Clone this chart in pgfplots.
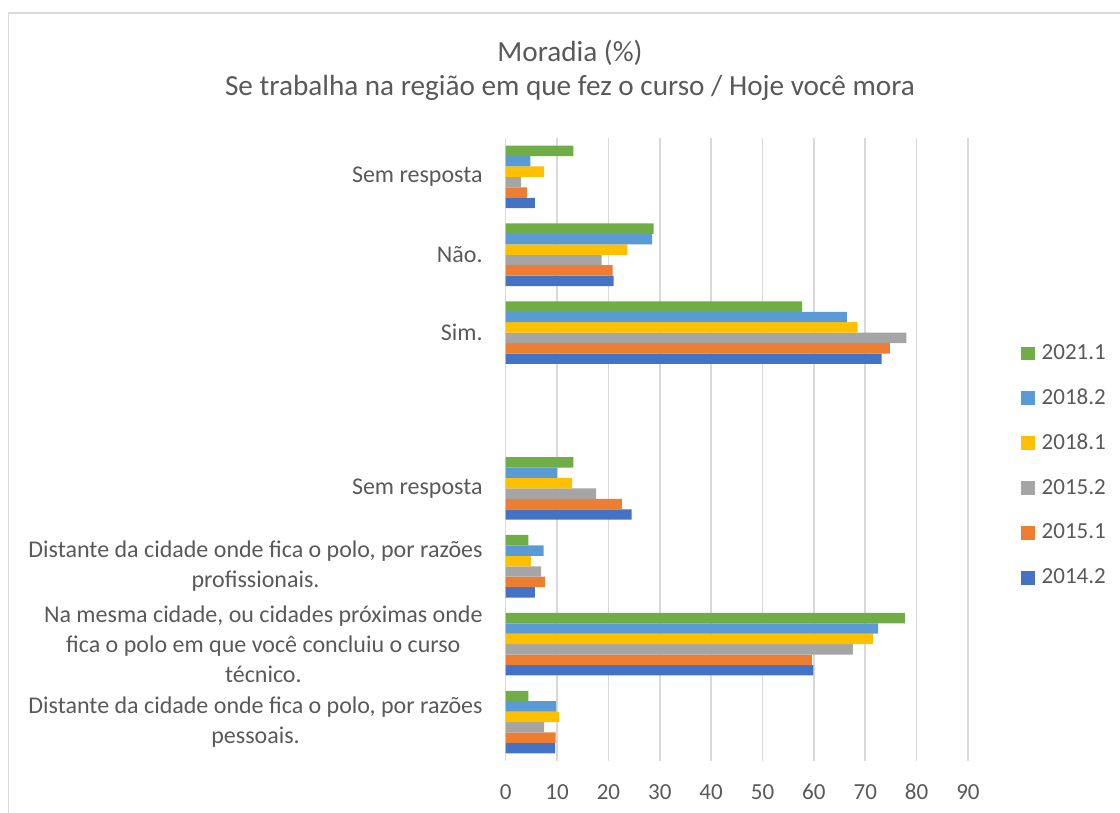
\documentclass[border=0pt]{standalone}
\usepackage{pgfplots}
\usepackage{pgfplotstable}
\pgfplotsset{compat=1.18}
\usepackage{fontspec}
\setmainfont{Carlito}

\definecolor{txt}{HTML}{595959}
\definecolor{gridc}{HTML}{D9D9D9}
\definecolor{cA}{HTML}{4472C4}
\definecolor{cB}{HTML}{ED7D31}
\definecolor{cC}{HTML}{A5A5A5}
\definecolor{cD}{HTML}{FFC000}
\definecolor{cE}{HTML}{5B9BD5}
\definecolor{cF}{HTML}{70AD47}

% y = category position (0 = bottom), 4 is the empty slot
\pgfplotstableread{
y  a     b     c     d     e     f
0  9.6   9.7   7.5   10.4  9.8   4.4
1  59.9  59.6  67.6  71.5  72.5  77.7
2  5.7   7.7   6.9   4.9   7.4   4.4
3  24.5  22.6  17.6  12.9  10.0  13.2
5  73.2  74.8  78.0  68.5  66.4  57.7
6  21.0  20.8  18.7  23.7  28.5  28.8
7  5.7   4.1   3.0   7.5   4.8   13.2
}\moradia

\begin{document}
\begin{tikzpicture}
% picture laid out in pixels of the reference, 1px = 0.5pt, origin bottom left
\useasboundingbox (0pt,0pt) rectangle (560pt,406.5pt);
\draw[gridc, line width=0.6pt] (4.25pt,0pt) -- (4.25pt,400pt) -- (560pt,400pt);
\node[txt, font=\fontsize{14.6}{17}\selectfont] at (285pt,380pt) {Moradia (\%)};
\node[txt, font=\fontsize{14.6}{17}\selectfont] at (285pt,362.5pt) {Se trabalha na região em que fez o curso / Hoje você mora};

\begin{axis}[
    at={(252.85pt,26pt)}, anchor=south west,
    scale only axis, width=231.15pt, height=311.5pt,
    xbar, bar width=0.134,
    xmin=0, xmax=90, ymin=-0.5, ymax=7.5,
    xtick={0,10,...,90},
    ytick={0,...,7},
    yticklabels={
      {Distante da cidade onde fica o polo, por razões\\pessoais.},
      {Na mesma cidade, ou cidades próximas onde\\fica o polo em que você concluiu o curso\\técnico.},
      {Distante da cidade onde fica o polo, por razões\\profissionais.},
      {Sem resposta}, {}, {Sim.}, {Não.}, {Sem resposta}},
    yticklabel style={align=center, inner sep=0pt, xshift=-11.35pt,
      font=\fontsize{12}{15}\selectfont, text=txt},
    xticklabel style={inner sep=0pt, yshift=-11.7pt, anchor=north,
      text height=7.4pt, text depth=0pt,
      font=\fontsize{11.5}{13}\selectfont, text=txt},
    /pgf/number format/assume math mode=true,
    major tick length=0pt,
    axis line style={draw=none},
    xmajorgrids, grid style={draw=gridc, line width=0.8pt},
    reverse legend,
    legend style={draw=none, fill=none, at={(1.1147,0.691)}, anchor=north west,
      inner sep=0pt, row sep=0pt,
      nodes={inner sep=0pt, minimum height=22.45pt, text=txt,
        font=\fontsize{11.5}{13}\selectfont}},
    legend cell align=left,
    legend image code/.code={\fill[#1] (0pt,-3.42pt) rectangle (6.85pt,3.42pt);},
  ]
  \addplot[fill=cA, draw=none, bar shift=-0.335] table[x=a, y=y] {\moradia};
  \addlegendentry{\hspace{3.3pt}2014.2}
  \addplot[fill=cB, draw=none, bar shift=-0.201] table[x=b, y=y] {\moradia};
  \addlegendentry{\hspace{3.3pt}2015.1}
  \addplot[fill=cC, draw=none, bar shift=-0.067] table[x=c, y=y] {\moradia};
  \addlegendentry{\hspace{3.3pt}2015.2}
  \addplot[fill=cD, draw=none, bar shift=0.067] table[x=d, y=y] {\moradia};
  \addlegendentry{\hspace{3.3pt}2018.1}
  \addplot[fill=cE, draw=none, bar shift=0.201] table[x=e, y=y] {\moradia};
  \addlegendentry{\hspace{3.3pt}2018.2}
  \addplot[fill=cF, draw=none, bar shift=0.335] table[x=f, y=y] {\moradia};
  \addlegendentry{\hspace{3.3pt}2021.1}
\end{axis}
\end{tikzpicture}
\end{document}
